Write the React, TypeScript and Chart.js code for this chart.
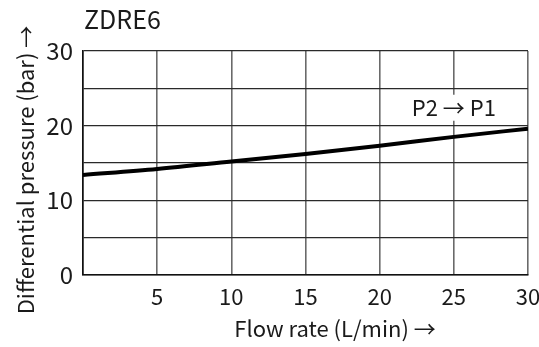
import React, { useEffect, useRef } from "react";
import { Chart, registerables } from "chart.js";

Chart.register(...registerables);

// Flow rate (L/min) and the matching differential pressure (bar)
const flowRate = [0, 5, 10, 15, 20, 25, 30];
const pressure = [13.4, 14.2, 15.2, 16.2, 17.3, 18.5, 19.6];

const xTicks = [5, 10, 15, 20, 25, 30];
const yTickLabels = [0, 10, 20, 30];

const chartTitle = "ZDRE6";
const xTitle = "Flow rate (L/min) \u2192";
const yTitle = "Differential pressure (bar) \u2192";
const curveLabel = "P2 \u2192 P1";
const curveLabelAt = { x: 25, y: 22.4 };

const FONT = "'Noto Sans CJK SC', 'Noto Sans', sans-serif";
const TEXT = "#1a1a1a";

const textPlugin = {
  id: "diagramText",
  afterDraw(chart: any) {
    const { ctx, chartArea, scales } = chart;
    ctx.save();
    ctx.fillStyle = TEXT;

    // title above the plot, flush with its left edge
    ctx.font = `25px ${FONT}`;
    ctx.textAlign = "left";
    ctx.textBaseline = "alphabetic";
    ctx.fillText(chartTitle, chartArea.left + 1, 29);

    // x-axis title
    ctx.font = `22px ${FONT}`;
    ctx.textAlign = "center";
    ctx.fillText(xTitle, 335, 337);

    // y-axis title, rotated
    ctx.save();
    ctx.translate(26, 170);
    ctx.rotate(-Math.PI / 2);
    ctx.textBaseline = "middle";
    ctx.fillText(yTitle, 0, 0);
    ctx.restore();

    // curve label on a white patch
    const cx = scales.x.getPixelForValue(curveLabelAt.x);
    const cy = scales.y.getPixelForValue(curveLabelAt.y);
    ctx.font = `22px ${FONT}`;
    const w = ctx.measureText(curveLabel).width;
    ctx.fillStyle = "#ffffff";
    ctx.fillRect(cx - w / 2 - 3, cy - 13, w + 6, 26);
    ctx.fillStyle = TEXT;
    ctx.textAlign = "center";
    ctx.textBaseline = "middle";
    ctx.fillText(curveLabel, cx, cy);
    ctx.restore();
  },
};

export default function App() {
  const ref = useRef<HTMLCanvasElement>(null);

  useEffect(() => {
    document.body.style.margin = "0";
    const chart = new Chart(ref.current!, {
      type: "line",
      data: {
        datasets: [
          {
            data: flowRate.map((x, i) => ({ x, y: pressure[i] })),
            borderColor: "#000000",
            borderWidth: 4,
            pointRadius: 0,
            tension: 0.4,
            cubicInterpolationMode: "monotone",
          },
        ],
      },
      options: {
        animation: false,
        responsive: false,
        maintainAspectRatio: false,
        layout: { padding: { top: 51, right: 11, left: 0, bottom: 0 } },
        plugins: {
          legend: { display: false },
          tooltip: { enabled: false },
          title: { display: false },
        },
        scales: {
          x: {
            type: "linear",
            min: 0,
            max: 30,
            afterBuildTicks(scale: any) {
              scale.ticks = [0, ...xTicks].map((v) => ({ value: v }));
            },
            afterFit(scale: any) {
              scale.height = 72;
              scale.paddingLeft = 0;
              scale.paddingRight = 0;
            },
            ticks: {
              padding: 8,
              color: TEXT,
              font: { family: FONT, size: 22 },
              maxRotation: 0,
              callback: (v: any) => (xTicks.includes(Number(v)) ? String(v) : ""),
            },
            grid: { color: "#6a6a6a", lineWidth: 1.6, drawTicks: false },
            border: { display: true, color: "#111111", width: 1.6 },
          },
          y: {
            type: "linear",
            min: 0,
            max: 30,
            ticks: {
              stepSize: 5,
              padding: 10,
              color: TEXT,
              font: { family: FONT, size: 24 },
              callback: (v: any) => (yTickLabels.includes(Number(v)) ? String(v) : ""),
            },
            afterFit(scale: any) {
              scale.width = 83;
              scale.paddingTop = 0;
              scale.paddingBottom = 0;
            },
            grid: { color: "#2a2a2a", lineWidth: 1.3, drawTicks: false },
            border: { display: true, color: "#111111", width: 1.6 },
          },
        },
      },
      plugins: [textPlugin],
    } as any);
    return () => chart.destroy();
  }, []);

  return (
    <div style={{ position: "fixed", left: 0, top: 0, width: 539, height: 347, background: "#fff" }}>
      <canvas ref={ref} width={539} height={347} />
    </div>
  );
}
